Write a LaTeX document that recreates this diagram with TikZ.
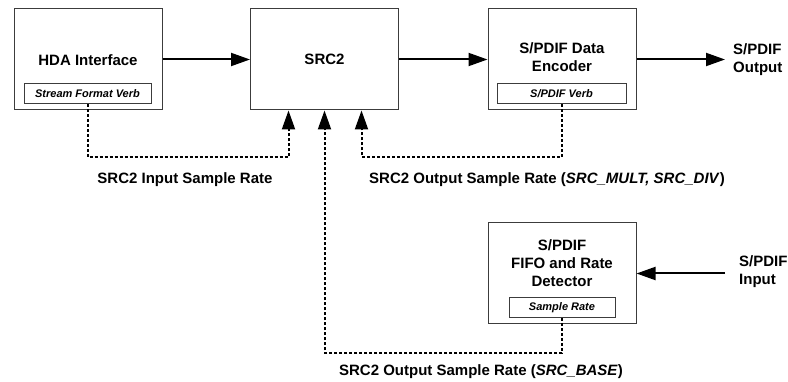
\documentclass[tikz,border=0pt]{standalone}
\usepackage{fontspec}
\setmainfont{Liberation Sans}
\usetikzlibrary{arrows.meta, positioning}
\definecolor{boxline}{RGB}{60,60,60}
\tikzset{
  block/.style={rectangle, draw=boxline, line width=1pt, fill=white,
    minimum width=148pt, minimum height=101pt, inner sep=0pt,
    font=\fontsize{15}{18}\selectfont\bfseries, align=center},
  subblock/.style={rectangle, draw=boxline, line width=1pt, fill=white,
    minimum height=20pt, inner sep=0pt,
    font=\fontsize{11}{13}\selectfont\bfseries\itshape},
  title/.style={font=\fontsize{15}{18}\selectfont\bfseries, align=center, inner sep=0pt},
  lbl/.style={font=\fontsize{15}{18}\selectfont\bfseries, inner sep=0pt},
  arrow/.style={-{Triangle[length=19pt, width=13pt]}, line width=2pt, color=black},
  ratearrow/.style={-{Triangle[length=19pt, width=13pt]}, line width=2pt, color=black,
    dash pattern=on 3pt off 2pt}
}
\begin{document}
\begin{tikzpicture}[x=1pt, y=-1pt]
  \useasboundingbox (0,0) rectangle (788,382);

  % Blocks
  \node[block] (hda) at (88,59.5) {};
  \node[title] (hdatitle) at (88,60) {HDA Interface};
  \node[subblock, minimum width=127pt] (hdaverb) at (87.5,94) {Stream Format Verb};

  \node[block] (src) at (324.5,59.5) {SRC2};

  \node[block] (enc) at (562,59.5) {};
  \node[title] (enctitle) at (562,57) {S/PDIF Data\\Encoder};
  \node[subblock, minimum width=129pt] (encverb) at (561.5,94) {S/PDIF Verb};

  \node[block] (det) at (562,273.5) {};
  \node[title] (dettitle) at (562,263) {S/PDIF\\FIFO and Rate\\Detector};
  \node[subblock, minimum width=106pt] (detrate) at (562,307.5) {Sample Rate};

  % Port labels
  \node[lbl, anchor=west, align=left] (outlbl) at (733,60) {S/PDIF\\Output};
  \node[lbl, anchor=west, align=left] (inlbl) at (739,272) {S/PDIF\\Input};

  % Data path
  \draw[arrow] (hda.east) -- (src.west);
  \draw[arrow] (src.east) -- (enc.west);
  \draw[arrow] (enc.east) -- ([xshift=-8pt]enc.east -| outlbl.west);
  \draw[arrow] ([xshift=-14pt]inlbl.west |- det.east) -- (det.east);

  % Sample rate paths
  \draw[ratearrow] (hdaverb.south) -- ++(0,53) -| ([xshift=-36pt]src.south);
  \draw[ratearrow] (detrate.south) -- ++(0,35) -| (src.south);
  \draw[ratearrow] (encverb.south) -- ++(0,53) -| ([xshift=37pt]src.south);

  % Rate labels
  \node[lbl] (inrate) at (185,180) {SRC2 Input Sample Rate};
  \node[lbl] (outrate) at (547,180) {SRC2 Output Sample Rate (\textit{SRC\_MULT, SRC\_DIV})};
  \node[lbl] (baserate) at (481,372) {SRC2 Output Sample Rate (\textit{SRC\_BASE})};
\end{tikzpicture}
\end{document}
